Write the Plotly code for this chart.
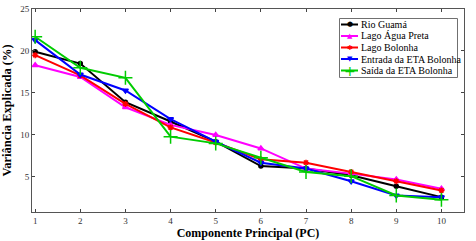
import plotly.graph_objects as go

pcs = [1, 2, 3, 4, 5, 6, 7, 8, 9, 10]
rio_guama = [19.9, 18.5, 13.9, 11.6, 9.2, 6.3, 6.0, 5.2, 3.9, 2.6]
lago_agua_preta = [18.3, 16.9, 13.3, 11.2, 10.0, 8.4, 6.0, 5.4, 4.7, 3.6]
lago_bolonha = [19.5, 17.1, 13.7, 10.9, 9.1, 7.1, 6.7, 5.6, 4.5, 3.4]
entrada_eta = [21.3, 17.2, 15.3, 11.9, 9.2, 6.7, 6.0, 4.5, 2.8, 2.6]
saida_eta = [21.7, 18.0, 16.8, 9.8, 9.0, 7.3, 5.6, 5.1, 2.8, 2.3]
series_names = ["Rio Guamá", "Lago Água Preta", "Lago Bolonha",
                "Entrada da ETA Bolonha", "Saída da ETA Bolonha"]

series = [
    (series_names[0], rio_guama, "black", "circle", 4, "●"),
    (series_names[1], lago_agua_preta, "#ff00ff", "triangle-up", 5, "▲"),
    (series_names[2], lago_bolonha, "#ff0000", "asterisk", 5, "✱"),
    (series_names[3], entrada_eta, "#0000ff", "triangle-down", 5, "▼"),
    (series_names[4], saida_eta, "#00cc00", "cross-thin", 10, "+"),
]

FONT = "Liberation Serif"

fig = go.Figure()
for name, vals, col, sym, sz, _ in series:
    fig.add_trace(go.Scatter(
        x=pcs, y=vals, name=name, mode="lines+markers",
        line=dict(color=col, width=2),
        marker=dict(symbol=sym, size=sz, color=col, line=dict(color=col, width=1.5)),
    ))

# plot area in pixels
L, R, T, B = 32, 464, 9, 212
def px(xp):
    return (xp - L) / (R - L)
def py(yp):
    return (B - yp) / (B - T)

shapes = []
annotations = []
# legend box
shapes.append(dict(type="rect", xref="paper", yref="paper",
                   x0=px(339.5), x1=px(457.5), y0=py(77.5), y1=py(18.5),
                   line=dict(color="#707070", width=1), fillcolor="rgba(255,255,255,0)",
                   layer="above", opacity=1))
row_y = [24.5, 36, 47.5, 59, 70.5]
for (name, vals, col, sym, sz, glyph), ry in zip(series, row_y):
    shapes.append(dict(type="line", xref="paper", yref="paper",
                       x0=px(341), x1=px(358), y0=py(ry), y1=py(ry),
                       line=dict(color=col, width=2), layer="above"))
    annotations.append(dict(xref="paper", yref="paper", x=px(349.5), y=py(ry),
                            text=glyph, showarrow=False, xanchor="center", yanchor="middle",
                            font=dict(family="DejaVu Sans", size=(14 if glyph == "+" else 7), color=col)))
    annotations.append(dict(xref="paper", yref="paper", x=px(359), y=py(ry),
                            text=name, showarrow=False, xanchor="left", yanchor="middle",
                            font=dict(family=FONT, size=10, color="black")))

fig.update_layout(
    width=476, height=241,
    margin=dict(l=L, r=476 - R, t=T, b=241 - B, autoexpand=False),
    paper_bgcolor="white", plot_bgcolor="white",
    font=dict(family=FONT, size=9, color="#333"),
    showlegend=False,
    shapes=shapes, annotations=annotations,
    xaxis=dict(range=[0.93, 10.5], tickvals=pcs, ticks="inside", ticklen=3,
               mirror="ticks", showline=True, linecolor="#555", linewidth=1,
               showgrid=False, zeroline=False, automargin=False,
               tickfont=dict(family=FONT, size=9, color="#333"),
               title=dict(text="<b>Componente Principal (PC)</b>", standoff=3,
                          font=dict(family=FONT, size=12, color="black"))),
    yaxis=dict(range=[0.83, 25], tickvals=[5, 10, 15, 20, 25], ticks="inside", ticklen=3,
               mirror="ticks", showline=True, linecolor="#555", linewidth=1,
               showgrid=False, zeroline=False, automargin=False,
               tickfont=dict(family=FONT, size=9, color="#333"),
               title=dict(text="<b>Variância Explicada (%)</b>", standoff=5,
                          font=dict(family=FONT, size=12.5, color="black"))),
)

fig.write_html("out.html", config={"displayModeBar": False})
with open("out.html", encoding="utf-8") as fh:
    html = fh.read()
html = html.replace("<head>", "<head><style>html,body{margin:0;padding:0;overflow:hidden;}</style>", 1)
with open("out.html", "w", encoding="utf-8") as fh:
    fh.write(html)
